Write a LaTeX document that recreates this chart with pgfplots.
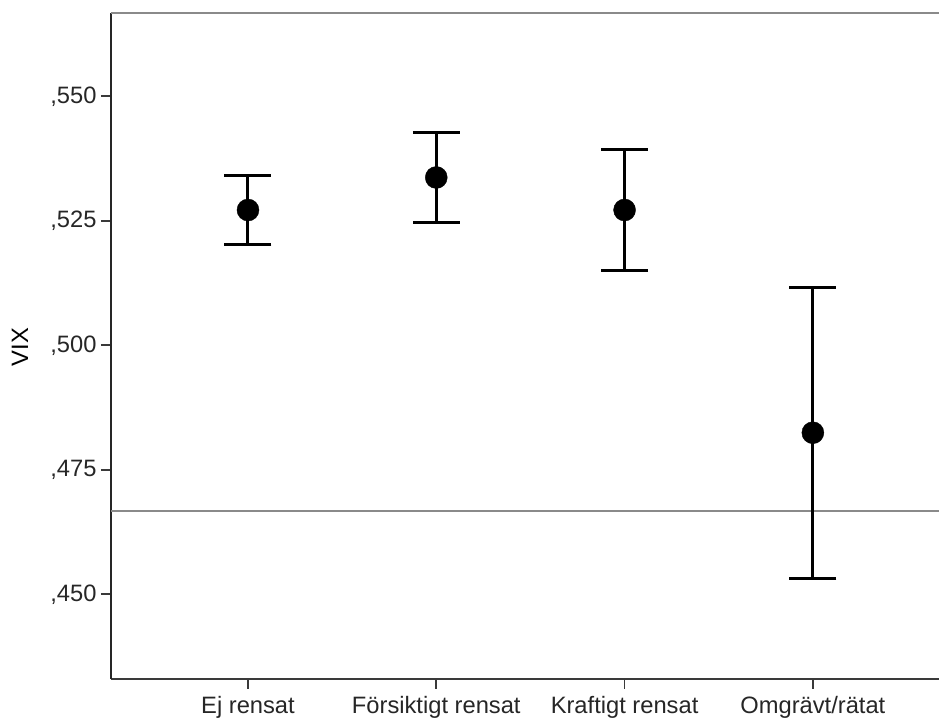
\documentclass[border=0pt]{standalone}
\usepackage{pgfplots}
\pgfplotsset{compat=1.18}
\usepackage{fontspec}
\setmainfont{Liberation Sans}
\definecolor{refgray}{HTML}{8A8A8A}
\definecolor{axdark}{HTML}{3A3A3A}
\begin{document}
\begin{tikzpicture}
\useasboundingbox (-111bp,-41bp) rectangle (828bp,679bp);
\begin{axis}[
  at={(0,0)}, anchor=south west,
  scale only axis, width=828bp, height=666bp,
  xmin=-0.7276, xmax=3.670,
  ymin=0.4330, ymax=0.56673,
  axis x line*=bottom, axis y line*=left,
  axis line style={-, line width=1.8bp},
  x axis line style={axdark},
  y axis line style={black!85},
  xtick={0,1,2,3},
  xticklabels={Ej rensat, Försiktigt rensat, Kraftigt rensat, Omgrävt/rätat},
  ytick={0.45,0.475,0.5,0.525,0.55},
  yticklabels={{,450},{,475},{,500},{,525},{,550}},
  tick align=outside, major tick length=10bp,
  tick style={line width=1.8bp, axdark},
  ticklabel style={font=\fontsize{23.8}{28}\selectfont, text=black!85},
  xticklabel style={yshift=-4bp},
  yticklabel style={xshift=-1bp},
  ylabel={VIX},
  ylabel style={font=\fontsize{23.8}{28}\selectfont, at={(axis description cs:-0.1099,0.4985)}, anchor=center},
  clip=false,
]
\addplot[refgray, line width=2bp] coordinates {(-0.7276,0.46679) (3.670,0.46679)};
\addplot[only marks, mark=*, mark size=11bp, black,
  error bars/.cd, y dir=both, y explicit,
  error bar style={line width=3bp, black},
  error mark options={rotate=90, mark size=23.5bp, line width=3bp, black}]
  coordinates {
  (0,0.52717) +- (0,0.00697)
  (1,0.53370) +- (0,0.00911)
  (2,0.52717) +- (0,0.01219)
  (3,0.48245) +- (0,0.02922)
  };
\draw[refgray, line width=2.5bp] (rel axis cs:0,1) -- (rel axis cs:1,1);
\end{axis}
\end{tikzpicture}
\end{document}
